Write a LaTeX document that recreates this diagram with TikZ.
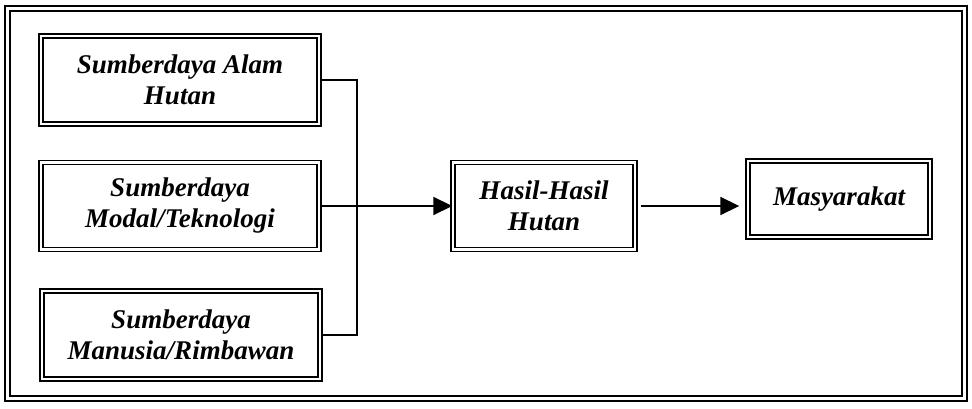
\documentclass[tikz,border=0pt]{standalone}
\usepackage{fontspec}
\setmainfont{Liberation Serif}
\usetikzlibrary{arrows.meta}

\begin{document}
\begin{tikzpicture}[x=1pt,y=1pt,>={Triangle[length=19pt,width=18pt]},
    kotak/.style={draw,double,line width=1.4pt,double distance=2.6pt,
        align=center,inner sep=2pt,
        font=\fontsize{27}{31}\selectfont\bfseries\itshape},
    garis/.style={line width=1.8pt}]
    \useasboundingbox (0,0) rectangle (972,409);
    \draw[double,line width=1.6pt,double distance=3pt]
        (7.5,10.5) rectangle (964.5,400.5);

    % sumber daya
    \node[kotak,minimum width=278pt,minimum height=88pt] (alam) at (180,329)
        {Sumberdaya Alam\\Hutan};
    \node[kotak,minimum width=278pt,minimum height=87pt] (modal) at (180,203)
        {Sumberdaya\\Modal/Teknologi};
    \node[kotak,minimum width=278pt,minimum height=88pt] (manusia) at (181,74)
        {Sumberdaya\\Manusia/Rimbawan};

    \node[kotak,minimum width=182pt,minimum height=87pt] (hasil) at (544,203)
        {Hasil-Hasil\\Hutan};
    \node[kotak,minimum width=182pt,minimum height=76pt] (masy) at (839,210)
        {Masyarakat};

    % penghubung
    \coordinate (j1) at (357,329);
    \draw[garis] (alam.east) -- (j1) |- (manusia.east);
    \draw[garis,->] (modal.east) -- (hasil.west);
    \draw[garis,->,shorten <=5pt,shorten >=8pt]
        (hasil.east) -- (hasil.east -| masy.west);
\end{tikzpicture}
\end{document}
